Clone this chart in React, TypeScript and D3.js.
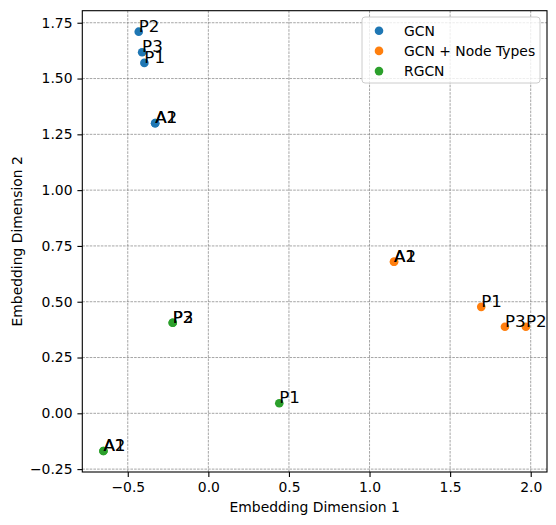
import { useEffect, useRef } from 'react';
import * as d3 from 'd3';

const seriesNames = ['GCN', 'GCN + Node Types', 'RGCN'];
const seriesColors = ['#1f77b4', '#ff7f0e', '#2ca02c'];
const nodeLabels = ['P1', 'P2', 'P3', 'A1', 'A2'];

const gcnX = [-0.397, -0.432, -0.411, -0.33, -0.33];
const gcnY = [1.57, 1.71, 1.618, 1.3, 1.3];
const typedX = [1.693, 1.97, 1.84, 1.152, 1.152];
const typedY = [0.477, 0.388, 0.388, 0.679, 0.679];
const rgcnX = [0.44, -0.221, -0.221, -0.651, -0.651];
const rgcnY = [0.045, 0.406, 0.406, -0.169, -0.169];

const xTicks = [-0.5, 0, 0.5, 1, 1.5, 2];
const yTicks = [-0.25, 0, 0.25, 0.5, 0.75, 1, 1.25, 1.5, 1.75];

type Point = { x: number; y: number; label: string; color: string };

const FONT = '"DejaVu Sans", sans-serif';

export default function App() {
  const svgRef = useRef<SVGSVGElement | null>(null);

  useEffect(() => {
    const svgElement = svgRef.current;
    if (!svgElement) return;
    const svg = d3.select(svgElement);
    svg.selectAll('*').remove();

    const width = 556;
    const height = 525;
    const plot = { left: 82.3, right: 547, top: 10.7, bottom: 472 };

    const xsAll = [...gcnX, ...typedX, ...rgcnX];
    const ysAll = [...gcnY, ...typedY, ...rgcnY];
    const [xMin, xMax] = d3.extent(xsAll) as [number, number];
    const [yMin, yMax] = d3.extent(ysAll) as [number, number];
    const xPad = (xMax - xMin) * 0.05;
    const yPad = (yMax - yMin) * 0.05;

    const x = d3.scaleLinear().domain([xMin - xPad, xMax + xPad]).range([plot.left, plot.right]);
    const y = d3.scaleLinear().domain([yMin - yPad, yMax + yPad]).range([plot.bottom, plot.top]);

    svg.attr('width', width).attr('height', height);
    svg.append('rect').attr('width', width).attr('height', height).attr('fill', '#ffffff');

    // grid
    const grid = svg.append('g').attr('class', 'grid');
    grid
      .selectAll('line.gx')
      .data(xTicks)
      .join('line')
      .attr('x1', (d) => x(d))
      .attr('x2', (d) => x(d))
      .attr('y1', plot.top)
      .attr('y2', plot.bottom)
      .attr('stroke', '#808080')
      .attr('stroke-width', 0.7)
      .attr('stroke-dasharray', '2.6 1.1');
    grid
      .selectAll('line.gy')
      .data(yTicks)
      .join('line')
      .attr('x1', plot.left)
      .attr('x2', plot.right)
      .attr('y1', (d) => y(d))
      .attr('y2', (d) => y(d))
      .attr('stroke', '#808080')
      .attr('stroke-width', 0.7)
      .attr('stroke-dasharray', '2.6 1.1');

    const fmtX = (v: d3.NumberValue) => d3.format('.1f')(v as number).replace('-', '\u2212');
    const fmtY = (v: d3.NumberValue) => d3.format('.2f')(v as number).replace('-', '\u2212');

    const xAxis = svg
      .append('g')
      .attr('transform', `translate(0,${plot.bottom})`)
      .call(d3.axisBottom(x).tickValues(xTicks).tickFormat(fmtX).tickSize(4.9).tickPadding(4.9).tickSizeOuter(0));
    const yAxis = svg
      .append('g')
      .attr('transform', `translate(${plot.left},0)`)
      .call(d3.axisLeft(y).tickValues(yTicks).tickFormat(fmtY).tickSize(4.9).tickPadding(4.9).tickSizeOuter(0));
    [xAxis, yAxis].forEach((g) => {
      g.select('.domain').remove();
      g.selectAll('line').attr('stroke', '#000').attr('stroke-width', 1.1);
      g.selectAll('text').attr('fill', '#000').attr('font-size', 13.9).attr('font-family', FONT);
    });

    // points and labels
    const groups: Point[][] = [
      [gcnX, gcnY],
      [typedX, typedY],
      [rgcnX, rgcnY],
    ].map(([xs, ys], si) => xs.map((v, i) => ({ x: v, y: ys[i], label: nodeLabels[i], color: seriesColors[si] })));

    const marks = svg.append('g').attr('class', 'marks');
    groups.forEach((pts) => {
      marks
        .append('g')
        .selectAll('circle')
        .data(pts)
        .join('circle')
        .attr('cx', (d) => x(d.x))
        .attr('cy', (d) => y(d.y))
        .attr('r', 4.3)
        .attr('fill', (d) => d.color);
      marks
        .append('g')
        .selectAll('text')
        .data(pts)
        .join('text')
        .attr('x', (d) => x(d.x))
        .attr('y', (d) => y(d.y))
        .attr('font-size', 16.7)
        .attr('font-family', FONT)
        .attr('fill', '#000')
        .text((d) => d.label);
    });

    // frame
    svg
      .append('rect')
      .attr('x', plot.left)
      .attr('y', plot.top)
      .attr('width', plot.right - plot.left)
      .attr('height', plot.bottom - plot.top)
      .attr('fill', 'none')
      .attr('stroke', '#000')
      .attr('stroke-width', 1.1);

    // axis titles
    svg
      .append('text')
      .attr('x', (plot.left + plot.right) / 2)
      .attr('y', 512)
      .attr('text-anchor', 'middle')
      .attr('font-size', 13.9)
      .attr('font-family', FONT)
      .text('Embedding Dimension 1');
    svg
      .append('text')
      .attr('transform', `translate(22,${(plot.top + plot.bottom) / 2}) rotate(-90)`)
      .attr('text-anchor', 'middle')
      .attr('font-size', 13.9)
      .attr('font-family', FONT)
      .text('Embedding Dimension 2');

    // legend
    const legend = svg.append('g').attr('transform', 'translate(362,17)');
    legend
      .append('rect')
      .attr('width', 178)
      .attr('height', 66)
      .attr('rx', 3)
      .attr('fill', '#ffffff')
      .attr('fill-opacity', 0.8)
      .attr('stroke', '#cccccc')
      .attr('stroke-width', 1);
    const rows = legend
      .selectAll('g.row')
      .data(seriesNames)
      .join('g')
      .attr('transform', (_, i) => `translate(0,${13.7 + i * 20.2})`);
    rows
      .append('circle')
      .attr('cx', 17)
      .attr('cy', 0)
      .attr('r', 4.3)
      .attr('fill', (_, i) => seriesColors[i]);
    rows
      .append('text')
      .attr('x', 42)
      .attr('y', 5)
      .attr('font-size', 13.9)
      .attr('font-family', FONT)
      .attr('fill', '#000')
      .text((d) => d);
  }, []);

  return <svg ref={svgRef} style={{ position: 'absolute', left: 0, top: 0 }} />;
}
